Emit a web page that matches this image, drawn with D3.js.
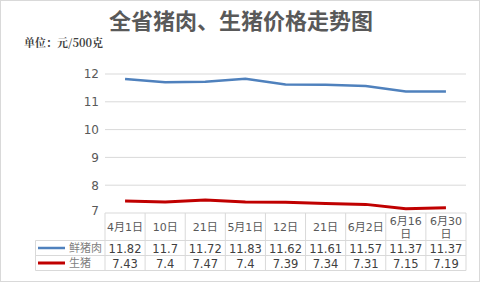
<!DOCTYPE html>
<html><head><meta charset="utf-8">
<script src="https://cdn.jsdelivr.net/npm/d3@7"></script>
<style>body{margin:0;background:#fff}svg{display:block}</style>
</head><body><svg id="c" width="481" height="284"></svg>
<script>
const categories = ["4月1日","10日","21日","5月1日","12日","21日 ","6月2日","6月16日","6月30日"];
const categoryLines = [["4月1日"],["10日"],["21日"],["5月1日"],["12日"],["21日"],["6月2日"],["6月16","日"],["6月30","日"]];
const freshPork = [11.82,11.7,11.72,11.83,11.62,11.61,11.57,11.37,11.37];
const livePig = [7.43,7.4,7.47,7.4,7.39,7.34,7.31,7.15,7.19];
const yTicks = [7,8,9,10,11,12];
const seriesNames = ["鲜猪肉","生猪"];
const seriesColors = ["#4f81bd","#c00000"];

const svg = d3.select("#c");
const W=481,H=284;
svg.append("rect").attr("x",0.5).attr("y",0.5).attr("width",W-2).attr("height",H-3)
  .attr("fill","#fff").attr("stroke","#d9d9d9");

const x = d3.scaleBand().domain(categories).range([105,466]);
const y = d3.scaleLinear().domain([7,12]).range([213,74]);

svg.append("text").attr("x",241).attr("y",29).attr("text-anchor","middle")
  .attr("font-family","Noto Sans CJK SC").attr("font-weight","bold").attr("font-size",22)
  .attr("fill","#595959").text("全省猪肉、生猪价格走势图");
svg.append("text").attr("x",24).attr("y",47)
  .attr("font-family","Noto Serif CJK SC, Noto Sans CJK SC").attr("font-weight","bold").attr("font-size",11)
  .attr("fill","#404040").text("单位：元/500克");

// gridlines
svg.append("g").selectAll("line").data(yTicks.filter(t=>t>7)).join("line")
  .attr("x1",105).attr("x2",466).attr("y1",d=>y(d)).attr("y2",d=>y(d))
  .attr("stroke","#d9d9d9").attr("stroke-width",1);

const ax = svg.append("g").attr("transform","translate(99,0)")
  .call(d3.axisLeft(y).tickValues(yTicks).tickSize(0).tickPadding(0).tickFormat(d3.format("d")));
ax.select(".domain").remove();
ax.selectAll("text").attr("font-family","DejaVu Sans").attr("font-size",12).attr("fill","#595959")
  .attr("dy",d=>d===7?"0.1em":"0.32em");

// lines
const line = d3.line().x((d,i)=>x(categories[i])+x.bandwidth()/2).y(d=>y(d));
svg.append("path").datum(freshPork).attr("d",line).attr("fill","none")
  .attr("stroke",seriesColors[0]).attr("stroke-width",2.5);
svg.append("path").datum(livePig).attr("d",line).attr("fill","none")
  .attr("stroke",seriesColors[1]).attr("stroke-width",3);

// table
const rowY=[213,240.5,255.5,270.5];
const tg = svg.append("g").attr("stroke","#d9d9d9").attr("stroke-width",1);
tg.append("line").attr("x1",105).attr("x2",466).attr("y1",rowY[0]).attr("y2",rowY[0]);
[1,2,3].forEach(i=>tg.append("line").attr("x1",35.5).attr("x2",466).attr("y1",rowY[i]).attr("y2",rowY[i]));
tg.append("line").attr("x1",35.5).attr("x2",35.5).attr("y1",rowY[1]).attr("y2",rowY[3]);
categories.forEach(c=>{
  tg.append("line").attr("x1",x(c)).attr("x2",x(c)).attr("y1",rowY[0]).attr("y2",rowY[3]);
});
tg.append("line").attr("x1",466).attr("x2",466).attr("y1",rowY[0]).attr("y2",rowY[3]);

categories.forEach((c,i)=>{
  const lines = categoryLines[i];
  const cx = x(c)+x.bandwidth()/2;
  const t = svg.append("text").attr("text-anchor","middle").attr("font-family","DejaVu Sans, Noto Sans CJK SC")
    .attr("font-size",11).attr("fill","#595959");
  if(lines.length===1){
    t.append("tspan").attr("x",cx).attr("y",231).text(lines[0]);
  } else {
    t.append("tspan").attr("x",cx).attr("y",225).text(lines[0]);
    t.append("tspan").attr("x",cx).attr("y",238).text(lines[1]);
  }
});
[freshPork,livePig].forEach((s,r)=>{
  svg.append("g").selectAll("text").data(s).join("text")
    .attr("x",(d,i)=>x(categories[i])+x.bandwidth()/2).attr("y",(rowY[r+1]+rowY[r+2])/2+4.5)
    .attr("text-anchor","middle").attr("font-family","DejaVu Sans").attr("font-size",11.5)
    .attr("fill","#404040").text(d=>d);
  const ly=(rowY[r+1]+rowY[r+2])/2;
  svg.append("line").attr("x1",38).attr("x2",65).attr("y1",ly).attr("y2",ly)
    .attr("stroke",seriesColors[r]).attr("stroke-width",r?3:2.5);
  svg.append("text").attr("x",69).attr("y",ly+4).attr("font-family","Noto Sans CJK SC")
    .attr("font-size",11).attr("fill","#7f7f7f").text(seriesNames[r]);
});
</script></body></html>
